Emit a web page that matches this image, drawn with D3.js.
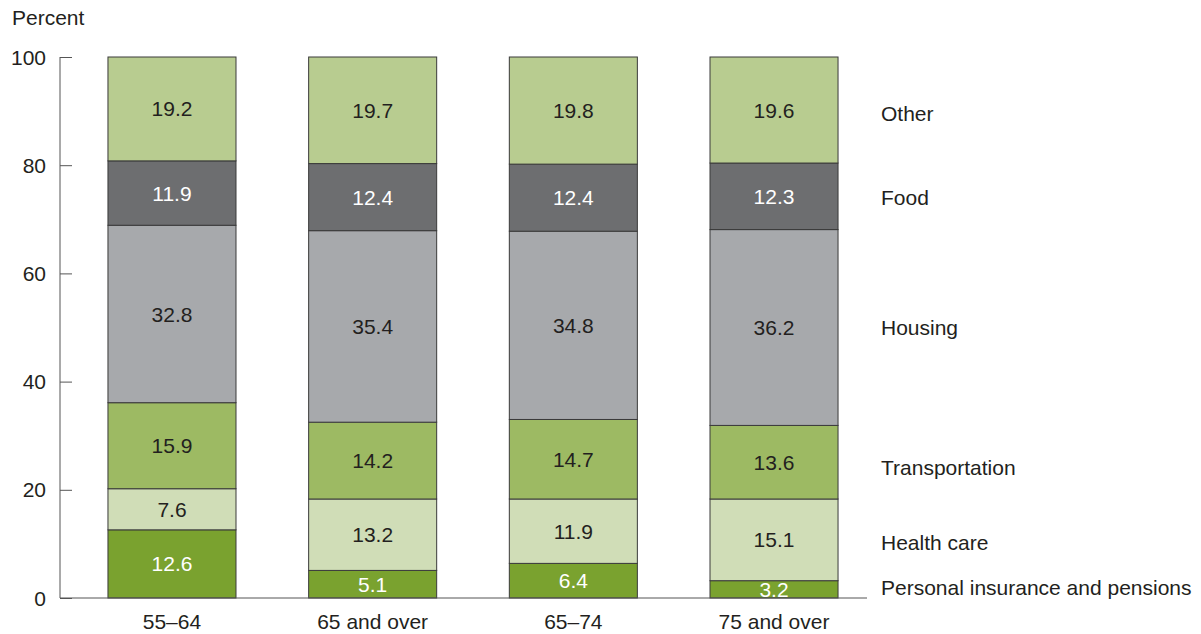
<!DOCTYPE html>
<html>
<head>
<meta charset="utf-8">
<script src="https://cdn.jsdelivr.net/npm/d3@7"></script>
<style>
  body { margin: 0; background: #fff; }
  text { font-family: "Liberation Sans", Arial, sans-serif; }
</style>
</head>
<body>
<svg id="chart" width="1201" height="634"></svg>
<script>
// age groups on the x axis
var groups = ["55\u201364", "65 and over", "65\u201374", "75 and over"];

// spending categories, bottom to top
var categories = ["Personal insurance and pensions", "Health care", "Transportation", "Housing", "Food", "Other"];

// percent shares, one array per category (same order as groups)
var insurance = [12.6, 5.1, 6.4, 3.2];
var health = [7.6, 13.2, 11.9, 15.1];
var transport = [15.9, 14.2, 14.7, 13.6];
var housing = [32.8, 35.4, 34.8, 36.2];
var food = [11.9, 12.4, 12.4, 12.3];
var other = [19.2, 19.7, 19.8, 19.6];

var yTicks = [0, 20, 40, 60, 80, 100];

var colors = ["#7aa22f", "#d0ddb7", "#9dba63", "#a7a9ac", "#6d6e70", "#b8cc90"];
var textColors = ["#fff", "#231f20", "#231f20", "#231f20", "#fff", "#231f20"];

var series = [insurance, health, transport, housing, food, other];

// build rows for d3.stack
var rows = groups.map(function(g, i) {
    var r = {group: g};
    categories.forEach(function(c, j) { r[c] = series[j][i]; });
    return r;
});

var stacked = d3.stack().keys(categories)(rows);

var svg = d3.select("#chart");
var margin = {left: 60, top: 57};
var axisLen = 807;
var height = 541;
var fs = "21px";

var g = svg.append("g").attr("transform", "translate(" + margin.left + "," + margin.top + ")");

var x = d3.scaleBand().domain(groups).range([0, 826]).paddingInner(0.362).paddingOuter(0.239);
var y = d3.scaleLinear().domain([0, 100]).range([height, 0]);

// bars
var layer = g.selectAll(".layer")
    .data(stacked)
    .enter()
    .append("g")
    .attr("class", "layer")
    .attr("fill", function(d, i) { return colors[i]; });

layer.selectAll("rect")
    .data(function(d) { return d; })
    .enter()
    .append("rect")
    .attr("x", function(d) { return x(d.data.group); })
    .attr("y", function(d) { return y(d[1]); })
    .attr("width", x.bandwidth())
    .attr("height", function(d) { return y(d[0]) - y(d[1]); })
    .attr("stroke", "#3a3a3a")
    .attr("stroke-width", 1);

// value labels
layer.each(function(s, i) {
    d3.select(this).selectAll("text")
        .data(s)
        .enter()
        .append("text")
        .attr("x", function(d) { return x(d.data.group) + x.bandwidth() / 2; })
        .attr("y", function(d) { return (y(d[0]) + y(d[1])) / 2; })
        .attr("dy", "0.36em")
        .attr("text-anchor", "middle")
        .attr("font-size", fs)
        .attr("fill", textColors[i])
        .text(function(d) { return (d[1] - d[0]).toFixed(1); });
});

// y axis
var yAxis = d3.axisRight(y).tickValues(yTicks).tickSize(12).tickFormat("");
var ya = g.append("g").call(yAxis);
ya.select(".domain").attr("stroke", "#555").attr("d", "M0," + height + "V0");
ya.selectAll(".tick line").attr("stroke", "#555");

g.selectAll(".ylab")
    .data(yTicks)
    .enter()
    .append("text")
    .attr("class", "ylab")
    .attr("x", -14)
    .attr("y", function(d) { return y(d); })
    .attr("dy", "0.36em")
    .attr("text-anchor", "end")
    .attr("font-size", fs)
    .attr("fill", "#231f20")
    .text(function(d) { return d; });

// baseline
g.append("line")
    .attr("x1", 0)
    .attr("x2", axisLen)
    .attr("y1", height)
    .attr("y2", height)
    .attr("stroke", "#555");

// x labels
g.selectAll(".xlab")
    .data(groups)
    .enter()
    .append("text")
    .attr("class", "xlab")
    .attr("x", function(d) { return x(d) + x.bandwidth() / 2; })
    .attr("y", height + 31)
    .attr("text-anchor", "middle")
    .attr("font-size", fs)
    .attr("fill", "#231f20")
    .text(function(d) { return d; });

// "Percent" title
svg.append("text")
    .attr("x", 12)
    .attr("y", 25)
    .attr("font-size", fs)
    .attr("fill", "#231f20")
    .text("Percent");

// category labels next to the last bar
var last = rows.length - 1;
var nudge = [-2, 3, 5, 0, 1, 3];
g.selectAll(".catlab")
    .data(stacked)
    .enter()
    .append("text")
    .attr("class", "catlab")
    .attr("x", 821)
    .attr("y", function(s, i) { return (y(s[last][0]) + y(s[last][1])) / 2 + nudge[i]; })
    .attr("dy", "0.36em")
    .attr("font-size", fs)
    .attr("fill", "#231f20")
    .text(function(s) { return s.key; });
</script>
</body>
</html>
